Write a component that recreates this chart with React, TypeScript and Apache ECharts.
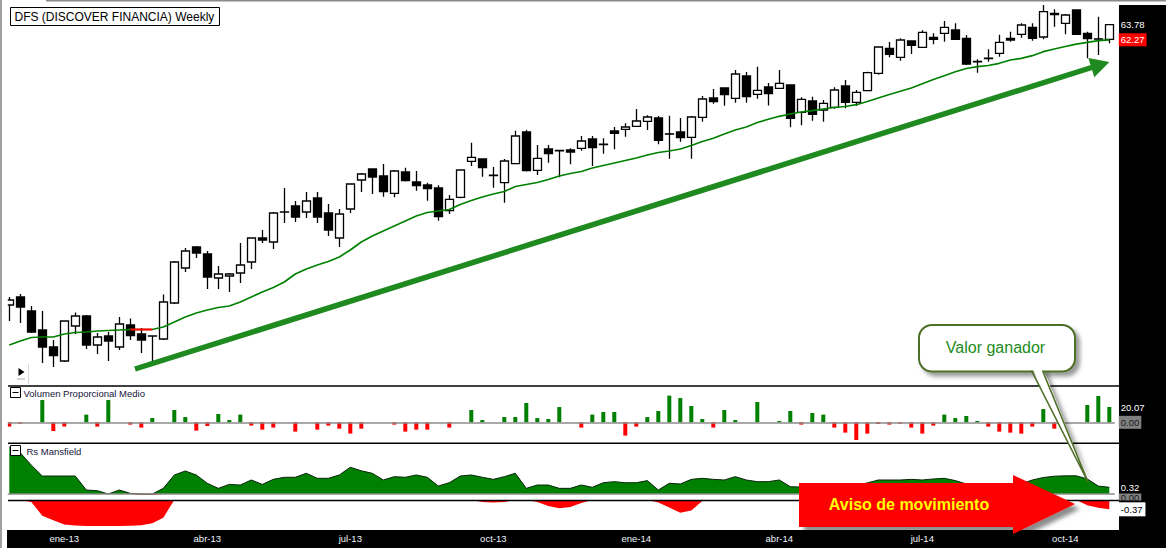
import React, { useEffect, useRef } from "react";
import * as echarts from "echarts";

// Weekly bars (Friday dates)
const weeks = [
  "2012-11-30","2012-12-07","2012-12-14","2012-12-21","2012-12-28",
  "2013-01-04","2013-01-11","2013-01-18","2013-01-25",
  "2013-02-01","2013-02-08","2013-02-15","2013-02-22",
  "2013-03-01","2013-03-08","2013-03-15","2013-03-22","2013-03-29",
  "2013-04-05","2013-04-12","2013-04-19","2013-04-26",
  "2013-05-03","2013-05-10","2013-05-17","2013-05-24","2013-05-31",
  "2013-06-07","2013-06-14","2013-06-21","2013-06-28",
  "2013-07-05","2013-07-12","2013-07-19","2013-07-26",
  "2013-08-02","2013-08-09","2013-08-16","2013-08-23","2013-08-30",
  "2013-09-06","2013-09-13","2013-09-20","2013-09-27",
  "2013-10-04","2013-10-11","2013-10-18","2013-10-25",
  "2013-11-01","2013-11-08","2013-11-15","2013-11-22","2013-11-29",
  "2013-12-06","2013-12-13","2013-12-20","2013-12-27",
  "2014-01-03","2014-01-10","2014-01-17","2014-01-24","2014-01-31",
  "2014-02-07","2014-02-14","2014-02-21","2014-02-28",
  "2014-03-07","2014-03-14","2014-03-21","2014-03-28",
  "2014-04-04","2014-04-11","2014-04-18","2014-04-25",
  "2014-05-02","2014-05-09","2014-05-16","2014-05-23","2014-05-30",
  "2014-06-06","2014-06-13","2014-06-20","2014-06-27",
  "2014-07-04","2014-07-11","2014-07-18","2014-07-25",
  "2014-08-01","2014-08-08","2014-08-15","2014-08-22","2014-08-29",
  "2014-09-05","2014-09-12","2014-09-19","2014-09-26",
  "2014-10-03","2014-10-10","2014-10-17","2014-10-24","2014-10-31",
];

const tickDates = ["2013-01-04","2013-04-05","2013-07-05","2013-10-04","2014-01-03","2014-04-04","2014-07-04","2014-10-03"];
const tickLabels = ["ene-13","abr-13","jul-13","oct-13","ene-14","abr-14","jul-14","oct-14"];

const opens = [
  35.75,36.55,35.15,33.25,31.55,30.15,33.65,34.65,31.75,32.65,
  31.55,33.75,32.85,32.66,32.35,35.95,39.45,41.55,40.85,38.45,
  38.65,38.95,40.05,42.45,42.05,45.03,45.65,45.05,46.45,44.95,
  42.45,45.35,48.25,49.35,48.65,46.92,49.05,48.05,47.75,47.45,
  45.18,46.52,50.12,50.35,48.70,47.98,49.88,53.05,49.22,51.35,
  51.20,51.25,51.42,52.35,51.84,53.15,53.32,53.62,54.12,54.45,
  52.87,53.05,52.52,54.52,56.45,57.45,56.42,58.65,56.82,57.55,
  57.42,57.75,55.02,56.15,55.25,55.52,57.65,56.02,57.18,58.92,
  61.42,60.52,62.15,61.52,62.52,62.92,63.25,62.42,60.10,60.40,
  60.92,62.42,62.82,63.52,62.55,64.92,63.92,65.25,62.92,62.37,
  62.32,
];
const closes = [
  36.25,35.55,33.05,31.55,30.70,34.15,34.65,31.75,32.55,32.15,
  33.85,32.70,32.25,32.64,36.05,40.05,41.15,40.95,38.55,38.85,
  38.85,39.75,42.45,42.25,44.95,45.07,44.55,46.15,44.55,43.25,
  44.85,47.85,48.85,48.55,47.08,49.15,48.18,47.68,47.38,44.58,
  46.32,49.25,50.52,49.48,48.74,50.15,52.65,49.18,50.42,50.88,
  51.16,51.05,52.15,51.48,51.80,52.92,53.55,54.15,54.55,52.22,
  52.83,52.48,54.55,56.35,56.08,56.78,58.85,56.58,57.22,56.90,
  57.92,54.42,56.32,54.82,55.92,57.25,56.02,57.02,58.98,61.55,
  60.82,62.25,61.72,63.02,62.32,63.52,62.32,59.85,60.06,60.44,
  62.02,62.25,63.75,62.42,65.08,64.78,64.75,62.82,62.38,62.33,
  63.78,
];
const lows = [
  34.15,33.95,32.95,29.95,29.55,30.05,32.85,31.35,30.85,30.15,
  31.25,32.25,30.95,29.95,32.25,35.85,39.05,40.45,37.35,37.35,
  37.05,37.95,39.35,41.95,41.35,43.95,44.05,44.45,43.95,42.65,
  41.55,44.95,47.05,46.85,46.58,46.52,48.10,47.18,46.18,44.18,
  44.85,46.42,49.65,48.58,47.48,45.98,49.82,49.10,48.75,49.98,
  48.52,49.82,51.18,49.65,50.88,51.32,52.58,53.55,53.25,51.82,
  50.38,52.08,50.38,54.08,55.88,55.68,55.98,55.98,56.38,55.70,
  57.40,53.52,53.72,54.18,54.08,55.38,55.42,55.65,57.15,58.78,
  60.52,60.18,60.85,61.50,61.82,62.08,62.30,59.75,58.98,60.08,
  60.58,62.08,62.48,62.18,62.32,63.58,62.82,62.75,60.42,60.75,
  61.92,
];
const highs = [
  36.55,36.85,35.65,35.15,32.25,34.20,35.00,34.75,32.95,33.05,
  34.55,34.40,33.45,32.68,36.80,40.15,41.45,41.65,41.15,39.65,
  38.95,41.95,42.50,43.25,45.05,47.45,46.15,47.05,47.05,45.85,
  45.35,47.90,48.95,49.40,49.85,49.25,49.48,49.15,47.98,47.72,
  46.75,49.32,51.98,50.40,49.55,50.35,53.18,53.25,51.75,51.75,
  51.25,51.42,52.65,52.65,52.42,53.55,53.92,55.35,54.72,54.65,
  54.68,54.45,54.65,56.65,57.35,57.50,59.25,59.05,59.58,57.95,
  59.25,57.82,56.52,56.58,56.25,57.52,58.25,57.25,59.08,61.58,
  62.05,62.42,62.18,63.22,62.92,64.15,63.92,62.75,60.32,61.32,
  62.78,63.08,63.92,63.92,65.75,65.32,64.85,65.32,63.08,64.58,
  63.82,
];

const movingAverage = [
  31.75,32.15,32.50,32.55,32.55,32.85,33.00,33.05,33.15,33.20,
  33.25,33.30,33.30,33.30,33.55,34.05,34.55,34.95,35.25,35.50,
  35.65,36.05,36.55,37.05,37.50,38.05,38.85,39.35,39.75,40.10,
  40.55,41.25,42.05,42.65,43.15,43.65,44.15,44.65,45.00,45.15,
  45.30,45.80,46.20,46.55,46.85,47.10,47.60,47.80,48.00,48.30,
  48.65,48.90,49.10,49.45,49.70,49.95,50.20,50.45,50.75,51.00,
  51.15,51.35,51.70,52.10,52.42,52.85,53.25,53.55,54.00,54.32,
  54.62,54.85,55.05,55.18,55.35,55.50,55.60,55.78,56.10,56.45,
  56.80,57.12,57.45,57.88,58.30,58.68,59.08,59.40,59.58,59.70,
  59.92,60.25,60.42,60.68,61.08,61.35,61.60,61.83,62.02,62.18,
  62.27,
];
const maFallingIdx = [11, 12, 13];

const volumeRatio = [
  -5.6,-1.7,0,29.2,-11.4,-5.6,0,10.1,-5.6,29.2,
  0,-3.0,-6.9,5.6,0,16.1,6.9,-10.9,-4.8,10.9,
  3.0,10.1,-4.3,-9.6,-6.9,0,-12.2,0,-9.6,-4.3,
  -8.3,-14.8,-8.3,0,0,-3.0,-12.2,-9.6,-9.6,0,
  -6.9,0,16.1,3.0,0,6.9,6.9,25.3,5.6,4.3,
  20.0,0,-6.9,10.1,13.5,13.5,-17.4,-5.6,6.9,14.8,
  35.0,31.8,21.4,4.3,-6.9,16.1,3.0,0,26.6,0,
  1.7,14.8,-3.0,12.2,10.1,-6.9,-13.5,-23.2,-14.8,-2.2,
  -3.0,-1.7,-6.9,-14.8,-4.3,10.1,5.6,8.3,1.7,-5.6,
  -12.2,-13.5,-14.8,-5.6,17.4,-8.3,0,0,22.7,34.5,
  20.07,
];

const rsMansfield = [
  2.25,1.97,1.38,0.86,0.86,0.86,0.86,0.19,0.16,0.00,
  0.19,0.03,-0.05,-0.05,0.27,0.91,1.10,0.91,0.51,0.27,
  0.46,0.43,0.67,0.46,0.70,0.80,0.80,0.99,0.75,0.75,
  0.91,1.28,1.11,0.99,0.67,0.83,0.80,0.91,0.80,0.38,
  0.54,0.86,0.91,0.80,0.70,0.83,0.99,0.27,0.43,0.43,
  0.27,0.27,0.43,0.32,0.54,0.59,0.54,0.54,0.64,0.19,
  0.51,0.48,0.70,0.75,0.70,0.67,0.83,0.67,0.59,0.59,
  0.67,0.35,0.33,0.33,0.38,0.38,0.43,0.43,0.53,0.67,
  0.67,0.67,0.70,0.67,0.72,0.75,0.64,0.48,0.43,0.38,
  0.33,0.38,0.48,0.67,0.79,0.85,0.87,0.87,0.72,0.38,
  0.32,
];

const rsLower = [
  0,0,-0.08,-0.62,-0.80,-0.97,-1.01,-1.03,-1.03,-1.03,
  -1.03,-1.02,-1.00,-0.92,-0.70,0,0,0,0,0,
  0,0,0,0,0,0,0,0,0,0,
  0,0,0,0,0,0,0,0,0,0,
  0,0,0,-0.08,-0.10,-0.08,0,0,-0.08,-0.24,
  -0.33,-0.28,-0.12,0,0,0,0,0,0,-0.10,
  -0.30,-0.51,-0.42,-0.04,0,0,0,0,0,0,
  0,0,0,0,0,0,0,0,0,0,
  0,0,0,0,0,0,0,0,0,0,
  0,0,0,0,0,0,0,0,-0.21,-0.31,
  -0.37,
];

const lastClose = 63.78;
const lastMA = 62.27;
const lastVolume = 20.07;
const lastRs = 0.32;
const lastRsLower = -0.37;

const FONT = '"Liberation Sans", Arial, sans-serif';

export default function App() {
  const ref = useRef<HTMLDivElement>(null);

  useEffect(() => {
    if (!ref.current) return;
    const chart = echarts.init(ref.current, null, { renderer: "svg" });

    const GL = 3.8;
    const GW = 1111;
    const grids = [
      { left: GL, top: 3, width: GW, height: 382 },
      { left: GL, top: 386, width: GW, height: 57 },
      { left: GL, top: 443, width: GW, height: 57 },
      { left: GL, top: 500, width: GW, height: 30 },
    ];

    const xAxes = grids.map((_, i) => ({
      type: "category",
      gridIndex: i,
      data: weeks,
      boundaryGap: true,
      z: 10,
      axisLine: { show: false },
      axisTick: { show: false },
      splitLine: { show: false },
      axisLabel:
        i === 3
          ? {
              show: true,
              interval: (_idx: number, val: string) => tickDates.indexOf(val) >= 0,
              formatter: (val: string) => tickLabels[tickDates.indexOf(val)] ?? "",
              color: "#eef6ff",
              fontSize: 9.5,
              fontFamily: FONT,
              margin: 3,
              hideOverlap: false,
            }
          : { show: false },
    }));

    const yAxes = [
      { gridIndex: 0, type: "value", min: 27.75, max: 65.95, show: false },
      { gridIndex: 1, type: "value", min: -27.1, max: 47.6, show: false },
      { gridIndex: 2, type: "value", min: -0.287, max: 2.44, show: false },
      { gridIndex: 3, type: "value", min: -1.19, max: 0, show: false },
    ];

    const noLine = { width: 0, color: "rgba(0,0,0,0)", type: "solid" };
    const lbl = (text: string, extra: any = {}) => ({
      show: true,
      position: "end",
      distance: 6,
      formatter: text,
      color: "#ffffff",
      fontSize: 9.5,
      fontFamily: FONT,
      ...extra,
    });

    const series: any[] = [
      {
        type: "candlestick",
        name: "DFS",
        xAxisIndex: 0,
        yAxisIndex: 0,
        barWidth: 8,
        data: weeks.map((_, i) => [opens[i], closes[i], lows[i], highs[i]]),
        itemStyle: {
          color: "#ffffff",
          color0: "#000000",
          borderColor: "#000000",
          borderColor0: "#000000",
          borderWidth: 1.3,
        },
      },
      {
        type: "line",
        name: "MA",
        xAxisIndex: 0,
        yAxisIndex: 0,
        data: movingAverage,
        symbol: "none",
        lineStyle: { color: "#008000", width: 1.7 },
        markLine: {
          silent: true,
          symbol: "none",
          animation: false,
          data: [
            { yAxis: lastClose, lineStyle: noLine, label: lbl(lastClose.toFixed(2)) },
            {
              yAxis: lastMA,
              lineStyle: noLine,
              label: lbl(lastMA.toFixed(2), { backgroundColor: "#ff0000", padding: [2, 2, 1, 2], distance: 4 }),
            },
          ],
        },
      },
      {
        type: "line",
        name: "MA falling",
        xAxisIndex: 0,
        yAxisIndex: 0,
        data: movingAverage.map((v, i) => (maFallingIdx.indexOf(i) >= 0 ? v : null)),
        symbol: "none",
        lineStyle: { color: "#ff0000", width: 1.9 },
      },
      {
        type: "bar",
        name: "Volumen Proporcional Medio",
        xAxisIndex: 1,
        yAxisIndex: 1,
        barWidth: 4,
        data: volumeRatio.map((v) => ({ value: v, itemStyle: { color: v >= 0 ? "#008000" : "#ff0000" } })),
        markLine: {
          silent: true,
          symbol: "none",
          animation: false,
          data: [
            {
              yAxis: 0,
              lineStyle: { color: "#8c8c8c", width: 1.5, type: "solid" },
              label: lbl("0.00", { backgroundColor: "#808080", color: "#1a1a1a", padding: [2, 2, 1, 2], distance: 4 }),
            },
            { yAxis: lastVolume, lineStyle: noLine, label: lbl(lastVolume.toFixed(2)) },
          ],
        },
      },
      {
        type: "line",
        name: "Rs Mansfield",
        xAxisIndex: 2,
        yAxisIndex: 2,
        data: rsMansfield.map((v) => (v > 0 ? v : 0)),
        symbol: "none",
        lineStyle: { color: "#0a240a", width: 1 },
        areaStyle: { color: "#008000", opacity: 1 },
        markLine: {
          silent: true,
          symbol: "none",
          animation: false,
          data: [
            {
              yAxis: 0,
              lineStyle: { color: "#8c8c8c", width: 1.5, type: "solid" },
              label: lbl("0.00", {
                backgroundColor: "#808080",
                color: "#1a1a1a",
                padding: [0, 2, 0, 2],
                lineHeight: 7,
                offset: [0, 3],
                distance: 4,
              }),
            },
            { yAxis: lastRs, lineStyle: noLine, label: lbl(lastRs.toFixed(2)) },
          ],
        },
      },
      {
        type: "line",
        name: "Rs Mansfield neg",
        xAxisIndex: 2,
        yAxisIndex: 2,
        data: rsMansfield.map((v) => (v < 0 ? v : 0)),
        symbol: "none",
        lineStyle: { width: 0 },
        areaStyle: { color: "#ff0000", opacity: 1 },
      },
      {
        type: "line",
        name: "Rs lower",
        xAxisIndex: 3,
        yAxisIndex: 3,
        data: rsLower,
        symbol: "none",
        lineStyle: { width: 0 },
        areaStyle: { color: "#ff0000", opacity: 1 },
        markLine: {
          silent: true,
          symbol: "none",
          animation: false,
          data: [
            {
              yAxis: lastRsLower,
              lineStyle: noLine,
              label: lbl(lastRsLower.toFixed(2), {
                backgroundColor: "#ffffff",
                color: "#000000",
                padding: [2, 3, 2, 2],
                distance: 4,
              }),
            },
          ],
        },
      },
    ];

    // Annotation geometry for the big green trend arrow
    const ax0 = 135, ay0 = 369;
    const bx = 1091.3, by = 67.6;
    const dx = 0.953, dy = -0.3, nx = 0.3, ny = 0.953;

    const graphic: any[] = [
      { type: "rect", z: 0, silent: true, shape: { x: 1119, y: 5, width: 47, height: 543 }, style: { fill: "#000" } },
      { type: "rect", z: 0, silent: true, shape: { x: 7, y: 530, width: 1159, height: 18 }, style: { fill: "#000" } },
      // left clip + borders
      { type: "rect", z: 15, silent: true, shape: { x: 2, y: 2, width: 5.8, height: 528 }, style: { fill: "#fff" } },
      { type: "rect", z: 30, silent: true, shape: { x: 0, y: 0, width: 2, height: 548 }, style: { fill: "#a0a0a0" } },
      { type: "rect", z: 30, silent: true, shape: { x: 46, y: 0, width: 1120, height: 1.5 }, style: { fill: "#8a8a8a" } },
      // panel separators
      { type: "line", z: 12, silent: true, shape: { x1: 8, y1: 386, x2: 1119, y2: 386 }, style: { stroke: "#000", lineWidth: 1.5 } },
      { type: "line", z: 12, silent: true, shape: { x1: 8, y1: 443.3, x2: 1119, y2: 443.3 }, style: { stroke: "#000", lineWidth: 1.5 } },
      { type: "line", z: 12, silent: true, shape: { x1: 8, y1: 500.5, x2: 1119, y2: 500.5 }, style: { stroke: "#000", lineWidth: 1.5 } },
      // title
      { type: "rect", z: 30, silent: true, shape: { x: 10.5, y: 7.5, width: 209, height: 18 }, style: { fill: "#fff", stroke: "#000", lineWidth: 1 } },
      {
        type: "text", z: 31, silent: true, x: 14.5, y: 16.8,
        style: { text: "DFS (DISCOVER FINANCIA) Weekly", fill: "#000", font: `12px ${FONT}`, verticalAlign: "middle" },
      },
      // play icon
      { type: "polygon", z: 30, silent: true, shape: { points: [[18.5, 368], [18.5, 376], [24.5, 372]] }, style: { fill: "#000" } },
      { type: "line", z: 30, silent: true, shape: { x1: 17.5, y1: 379, x2: 25, y2: 379 }, style: { stroke: "#555", lineWidth: 1, lineDash: [1, 1] } },
      { type: "line", z: 30, silent: true, shape: { x1: 28.5, y1: 364, x2: 28.5, y2: 384 }, style: { stroke: "#d8d8d8", lineWidth: 1 } },
      // panel labels
      { type: "rect", z: 30, silent: true, shape: { x: 10.5, y: 387.5, width: 10, height: 10 }, style: { fill: "#fff", stroke: "#000", lineWidth: 1 } },
      { type: "line", z: 31, silent: true, shape: { x1: 12.5, y1: 392.5, x2: 18.5, y2: 392.5 }, style: { stroke: "#000", lineWidth: 1 } },
      {
        type: "text", z: 31, silent: true, x: 23.5, y: 393.5,
        style: { text: "Volumen Proporcional Medio", fill: "#14143a", font: `9.5px ${FONT}`, verticalAlign: "middle" },
      },
      { type: "rect", z: 30, silent: true, shape: { x: 10.5, y: 445.5, width: 10, height: 10 }, style: { fill: "#fff", stroke: "#000", lineWidth: 1 } },
      { type: "line", z: 31, silent: true, shape: { x1: 12.5, y1: 450.5, x2: 18.5, y2: 450.5 }, style: { stroke: "#000", lineWidth: 1 } },
      {
        type: "text", z: 31, silent: true, x: 26.5, y: 451,
        style: { text: "Rs Mansfield", fill: "#14143a", font: `9.5px ${FONT}`, verticalAlign: "middle" },
      },
      // big green trend arrow
      {
        type: "line", z: 20, silent: true,
        shape: { x1: ax0, y1: ay0, x2: bx + dx * 2, y2: by + dy * 2 },
        style: { stroke: "#1f8a1f", lineWidth: 5.5 },
      },
      {
        type: "polygon", z: 20, silent: true,
        shape: {
          points: [
            [bx + nx * 10, by + ny * 10],
            [bx + dx * 19, by + dy * 19],
            [bx - nx * 10, by - ny * 10],
          ],
        },
        style: { fill: "#1f8a1f" },
      },
      // callout "Valor ganador"
      {
        type: "polygon", z: 20, silent: true,
        shape: { points: [[1031, 368], [1088, 482], [1043, 368]] },
        style: { fill: "#fff", shadowBlur: 4, shadowOffsetX: 4, shadowOffsetY: 3, shadowColor: "rgba(0,0,0,0.4)" },
      },
      {
        type: "rect", z: 20, silent: true,
        shape: { x: 919, y: 325, width: 156, height: 46.5, r: 13 },
        style: { fill: "#fff", stroke: "#4d6e25", lineWidth: 2, shadowBlur: 4, shadowOffsetX: 4, shadowOffsetY: 4, shadowColor: "rgba(0,0,0,0.4)" },
      },
      {
        type: "polygon", z: 21, silent: true,
        shape: { points: [[1032, 368], [1088, 481], [1042, 368]] },
        style: { fill: "#fff" },
      },
      {
        type: "polyline", z: 21, silent: true,
        shape: { points: [[1031.5, 370.5], [1088, 482], [1042.5, 370.5]] },
        style: { stroke: "#4d6e25", lineWidth: 1.6, fill: null },
      },
      {
        type: "text", z: 22, silent: true, x: 995.5, y: 347.5,
        style: { text: "Valor ganador", fill: "#228b22", font: `16px ${FONT}`, align: "center", verticalAlign: "middle" },
      },
      // red arrow "Aviso de movimiento"
      {
        type: "polygon", z: 20, silent: true,
        shape: { points: [[799, 483], [1013, 483], [1013, 475], [1075, 504], [1013, 534], [1013, 527], [799, 527]] },
        style: { fill: "#ff0000", shadowBlur: 4, shadowOffsetX: 5, shadowOffsetY: 5, shadowColor: "rgba(0,0,0,0.45)" },
      },
      {
        type: "text", z: 22, silent: true, x: 909, y: 504,
        style: { text: "Aviso de movimiento", fill: "#ffff00", font: `bold 16px ${FONT}`, align: "center", verticalAlign: "middle" },
      },
    ];

    chart.setOption({
      animation: false,
      backgroundColor: "#ffffff",
      textStyle: { fontFamily: FONT },
      grid: grids,
      xAxis: xAxes,
      yAxis: yAxes,
      series,
      graphic: { elements: graphic },
    });

    return () => chart.dispose();
  }, []);

  return (
    <div
      ref={ref}
      style={{ position: "fixed", left: 0, top: 0, width: 1166, height: 548, background: "#fff" }}
    />
  );
}
